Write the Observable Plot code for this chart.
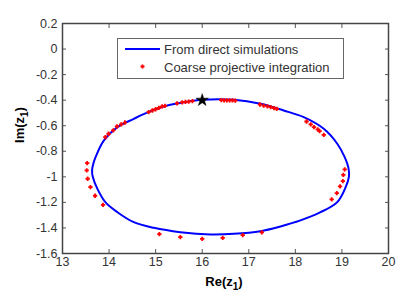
<!DOCTYPE html>
<html>
<head>
<meta charset="utf-8">
<script src="https://cdn.jsdelivr.net/npm/d3@7"></script>
<script src="https://cdn.jsdelivr.net/npm/@observablehq/plot@0.6"></script>
<style>
  html, body { margin: 0; padding: 0; background: #fff; }
  #wrap { position: relative; width: 415px; height: 305px; font-family: "Liberation Sans", Arial, sans-serif; }
  #legend { position: absolute; left: 117px; top: 38px; width: 225px; height: 39px; border: 1px solid #666; background: #fff; }
</style>
</head>
<body>
<div id="wrap"></div>
<script>
// Direct simulation curve, ordered around the orbit
const curveRe = [16.00, 16.68, 17.25, 17.75, 18.18, 18.61, 18.90, 19.06, 19.14, 19.15, 19.08, 18.90, 18.54, 18.11, 17.68, 17.25, 16.68, 16.18, 15.53, 14.96, 14.53, 14.18, 13.92, 13.75, 13.65, 13.635, 13.66, 13.71, 13.89, 14.18, 14.53, 14.89, 15.25, 15.61];
const curveIm = [-0.397, -0.397, -0.428, -0.481, -0.533, -0.624, -0.741, -0.846, -0.93, -1.0, -1.081, -1.198, -1.277, -1.341, -1.388, -1.425, -1.446, -1.451, -1.433, -1.399, -1.355, -1.277, -1.198, -1.094, -1.0, -0.95, -0.9, -0.846, -0.715, -0.611, -0.546, -0.486, -0.442, -0.416];

// Coarse projective integration points
const cpiRe = [13.53, 13.52, 13.54, 13.60, 13.70, 13.87,
  13.92, 13.99, 14.09, 14.17, 14.26, 14.34,
  14.85, 14.93, 15.00, 15.07, 15.14, 15.20,
  15.46, 15.57, 15.64, 15.71, 15.79,
  16.41, 16.47, 16.53, 16.59, 16.65, 16.71,
  17.24, 17.32, 17.40, 17.47, 17.54, 17.60,
  18.24, 18.33, 18.40, 18.48, 18.52, 18.61,
  19.06, 19.03, 19.02, 18.96, 18.89, 18.78,
  17.28, 16.87, 16.44, 16.00, 15.53, 15.08];
const cpiIm = [-0.893, -0.950, -1.015, -1.081, -1.148, -1.219,
  -0.690, -0.663, -0.637, -0.606, -0.590, -0.575,
  -0.494, -0.481, -0.471, -0.460, -0.449, -0.444,
  -0.425, -0.418, -0.414, -0.411, -0.408,
  -0.400, -0.401, -0.401, -0.402, -0.402, -0.403,
  -0.434, -0.442, -0.449, -0.455, -0.463, -0.468,
  -0.567, -0.590, -0.611, -0.629, -0.642, -0.671,
  -0.942, -0.984, -1.034, -1.075, -1.128, -1.177,
  -1.435, -1.456, -1.477, -1.486, -1.472, -1.449];

// Starting point (star)
const startRe = [16.0];
const startIm = [-0.4];

const xTicks = [13, 14, 15, 16, 17, 18, 19, 20];
const yTicks = [0.2, 0, -0.2, -0.4, -0.6, -0.8, -1, -1.2, -1.4, -1.6];

const curve = curveRe.map((x, i) => ({x, y: curveIm[i]}));
const cpi = cpiRe.map((x, i) => ({x, y: cpiIm[i]}));
const start = startRe.map((x, i) => ({x, y: startIm[i]}));

const fmt = d => d3.format("~g")(d).replace("−", "-");

const plot = Plot.plot({
  width: 415,
  height: 305,
  marginLeft: 62,
  marginRight: 27,
  marginTop: 23,
  marginBottom: 52,
  style: {background: "#fff", fontFamily: "'Liberation Sans', Arial, sans-serif", fontSize: "12.5px", color: "#333"},
  x: {domain: [13, 20], label: null},
  y: {domain: [-1.6, 0.2], label: null},
  marks: [
    Plot.line(curve, {x: "x", y: "y", curve: "catmull-rom-closed", stroke: "#0000ff", strokeWidth: 2}),
    Plot.dot(cpi, {x: "x", y: "y", symbol: "plus", r: 1.5, stroke: "#ff0000", strokeWidth: 1.8}),
    Plot.dot(start, {x: "x", y: "y", symbol: "star", r: 3.9, fill: "#000", stroke: "#000", strokeWidth: 0.5}),
    Plot.axisX(xTicks, {anchor: "bottom", tickSize: -4, tickFormat: () => "", stroke: "#555", label: null}),
    Plot.axisX(xTicks, {anchor: "top", tickSize: -4, tickFormat: () => "", stroke: "#555", label: null}),
    Plot.axisY(yTicks, {anchor: "left", tickSize: -4, tickFormat: () => "", stroke: "#555", label: null}),
    Plot.axisY(yTicks, {anchor: "right", tickSize: -4, tickFormat: () => "", stroke: "#555", label: null}),
    Plot.axisX(xTicks, {anchor: "bottom", tickSize: 0, tickPadding: 4, tickFormat: fmt, fill: "#333", label: null}),
    Plot.axisY(yTicks, {anchor: "left", tickSize: 0, tickPadding: 5, tickFormat: fmt, fill: "#333", label: null}),
    Plot.frame({stroke: "#444", strokeWidth: 1.5})
  ]
});

const svg = d3.select(plot);
// Axis labels with subscripts
const xl = svg.append("text")
  .attr("x", 224).attr("y", 286)
  .attr("text-anchor", "middle")
  .attr("font-weight", "bold").attr("font-size", "13px").attr("fill", "#000");
xl.append("tspan").text("Re(z");
xl.append("tspan").attr("font-size", "10px").attr("dy", 4).text("1");
xl.append("tspan").attr("dy", -4).text(")");

const yl = svg.append("text")
  .attr("transform", "translate(24,125) rotate(-90)")
  .attr("text-anchor", "middle")
  .attr("font-weight", "bold").attr("font-size", "13px").attr("fill", "#000");
yl.append("tspan").text("Im(z");
yl.append("tspan").attr("font-size", "10px").attr("dy", 4).text("1");
yl.append("tspan").attr("dy", -4).text(")");

const wrap = document.getElementById("wrap");
wrap.appendChild(plot);

// Legend
const legend = document.createElement("div");
legend.id = "legend";
legend.innerHTML = `
<svg width="225" height="39" style="position:absolute;left:0;top:0;font-family:'Liberation Sans',Arial,sans-serif;font-size:13px">
  <line x1="7" x2="42" y1="10" y2="10" stroke="#0000ff" stroke-width="2"></line>
  <text x="46" y="14.5" fill="#333">From direct simulations</text>
  <path d="M22.5,27.5h4M24.5,25.5v4" stroke="#ff0000" stroke-width="1.8"></path>
  <text x="46" y="33" fill="#333">Coarse projective integration</text>
</svg>`;
wrap.appendChild(legend);
</script>
</body>
</html>
